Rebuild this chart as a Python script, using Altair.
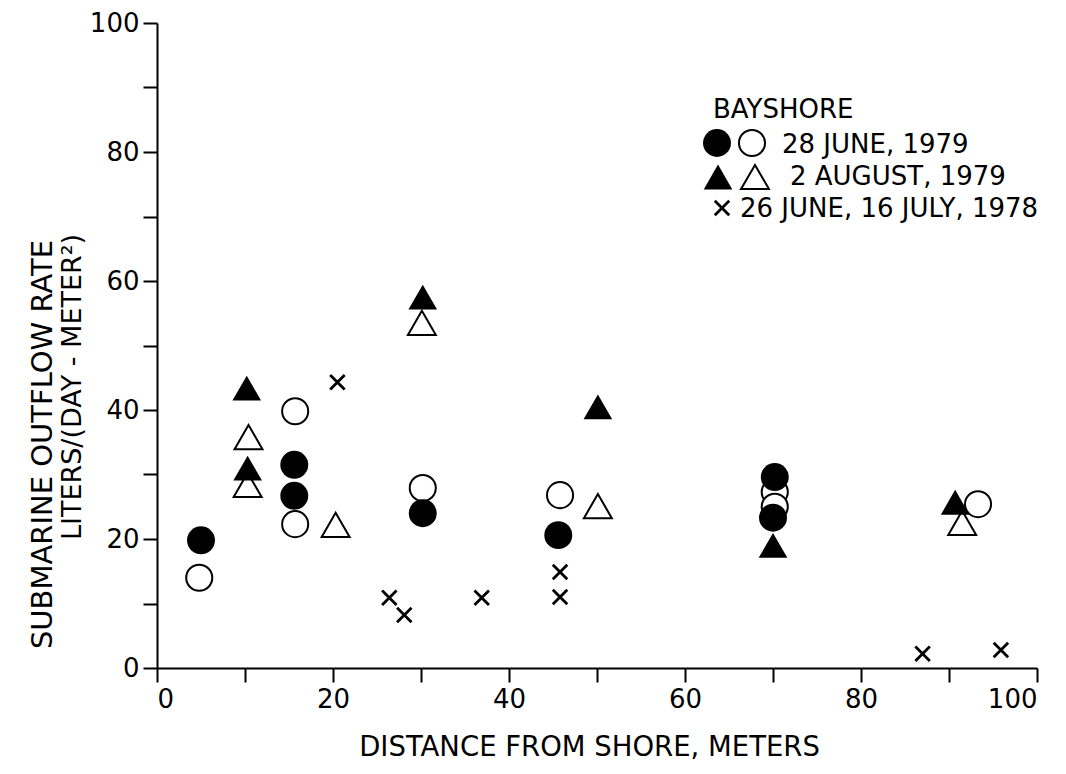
import altair as alt
import pandas as pd

# 28 June 1979 (filled / open circles)
fc_x = [5.0, 15.6, 15.6, 30.2, 45.6, 70.2, 70.0]
fc_y = [19.8, 31.5, 26.7, 24.0, 20.6, 29.6, 23.3]
oc_x = [4.8, 15.7, 15.7, 30.2, 45.8, 70.2, 70.2, 93.3]
oc_y = [14.0, 39.8, 22.3, 27.9, 26.8, 27.3, 25.0, 25.4]
# 2 August 1979 (filled / open triangles)
ft_x = [10.2, 10.3, 30.2, 50.1, 70.0, 90.7]
ft_y = [43.4, 31.0, 57.5, 40.5, 19.0, 25.7]
ot_x = [10.4, 10.3, 20.3, 30.1, 50.1, 91.5]
ot_y = [35.8, 28.4, 22.2, 53.5, 25.1, 22.5]
# 26 June, 16 July 1978 (x marks)
xm_x = [20.5, 26.4, 28.1, 36.9, 45.8, 45.8, 87.0, 95.9]
xm_y = [44.3, 10.9, 8.2, 10.9, 14.9, 11.0, 2.2, 2.8]

x_ticks = list(range(0, 101, 10))
y_ticks = list(range(0, 101, 10))

x_title = "DISTANCE FROM SHORE, METERS"
y_title_1 = "SUBMARINE OUTFLOW RATE"
y_title_2 = "LITERS/(DAY - METER²)"

legend_title = "BAYSHORE"
legend_labels = ["28 JUNE, 1979", "2 AUGUST, 1979", "26 JUNE, 16 JULY, 1978"]

FONT = "DejaVu Sans"

def frame(xs, ys):
    return pd.DataFrame({"x": xs, "y": ys})

xenc = alt.X(
    "x:Q",
    scale=alt.Scale(domain=[0, 100], nice=False),
    axis=alt.Axis(
        values=x_ticks,
        labelExpr="datum.value % 20 == 0 ? datum.label : ''",
        title=x_title,
        titleX=432,
        titleY=87,
        titleAlign="center",
        titleBaseline="alphabetic",
        titleFontSize=27.5,
        labelPadding=4,
    ),
)
yenc = alt.Y(
    "y:Q",
    scale=alt.Scale(domain=[0, 100], nice=False),
    axis=alt.Axis(
        values=y_ticks,
        labelExpr="datum.value % 20 == 0 ? datum.label : ''",
        title=y_title_1,
        titleAngle=270,
        titleX=-106,
        titleY=421,
        titleAlign="center",
        titleBaseline="alphabetic",
        titleFontSize=29,
        labelPadding=4,
    ),
)

open_c = alt.Chart(frame(oc_x, oc_y)).mark_point(
    shape="circle", size=680, filled=True, fill="white", stroke="black", strokeWidth=2, opacity=1
).encode(x=xenc, y=yenc)
open_t = alt.Chart(frame(ot_x, ot_y)).mark_point(
    shape="triangle-up", size=780, filled=True, fill="white", stroke="black", strokeWidth=2, opacity=1
).encode(x=xenc, y=yenc)
xmarks = alt.Chart(frame(xm_x, xm_y)).mark_point(
    shape="M-1,-1L1,1M-1,1L1,-1", size=210, filled=False, stroke="black", strokeWidth=2.8, opacity=1
).encode(x=xenc, y=yenc)
fill_c = alt.Chart(frame(fc_x, fc_y)).mark_point(
    shape="circle", size=780, filled=True, color="black", opacity=1
).encode(x=xenc, y=yenc)
fill_t = alt.Chart(frame(ft_x, ft_y)).mark_point(
    shape="triangle-up", size=820, filled=True, color="black", opacity=1
).encode(x=xenc, y=yenc)

# second line of the y title, drawn as rotated text in pixel space
ytitle2 = pd.DataFrame({"px": [-76], "py": [364], "t": [y_title_2]})
lx = alt.X("px:Q", scale=None, axis=None)
ly = alt.Y("py:Q", scale=None, axis=None)
y2 = alt.Chart(ytitle2).mark_text(
    angle=270, align="center", baseline="alphabetic", font=FONT, fontSize=27, color="black"
).encode(x=lx, y=ly, text="t:N")

# manual legend (two symbols per row), placed in pixel space
leg_text = pd.DataFrame({
    "px": [556, 625, 633, 583],
    "py": [95, 130, 162, 194],
    "t": [legend_title] + legend_labels,
})
leg_sym = pd.DataFrame({
    "px": [560, 595, 561, 598, 565],
    "py": [120, 120, 154, 154, 185],
    "k": ["fc", "oc", "ft", "ot", "xm"],
})

l_text = alt.Chart(leg_text).mark_text(
    align="left", baseline="alphabetic", font=FONT, fontSize=26, color="black"
).encode(x=lx, y=ly, text="t:N")
l_fc = alt.Chart(leg_sym).transform_filter("datum.k == 'fc'").mark_point(
    shape="circle", size=780, filled=True, color="black", opacity=1).encode(x=lx, y=ly)
l_oc = alt.Chart(leg_sym).transform_filter("datum.k == 'oc'").mark_point(
    shape="circle", size=680, filled=True, fill="white", stroke="black", strokeWidth=2, opacity=1).encode(x=lx, y=ly)
l_ft = alt.Chart(leg_sym).transform_filter("datum.k == 'ft'").mark_point(
    shape="triangle-up", size=820, filled=True, color="black", opacity=1).encode(x=lx, y=ly)
l_ot = alt.Chart(leg_sym).transform_filter("datum.k == 'ot'").mark_point(
    shape="triangle-up", size=780, filled=True, fill="white", stroke="black", strokeWidth=2, opacity=1).encode(x=lx, y=ly)
l_xm = alt.Chart(leg_sym).transform_filter("datum.k == 'xm'").mark_point(
    shape="M-1,-1L1,1M-1,1L1,-1", size=210, filled=False, stroke="black", strokeWidth=2.8, opacity=1).encode(x=lx, y=ly)

chart = alt.layer(
    open_c, open_t, xmarks, fill_c, fill_t, y2, l_text, l_fc, l_oc, l_ft, l_ot, l_xm
).properties(
    width=880,
    height=645,
    autosize=alt.AutoSizeParams(type="none"),
    padding={"left": 149, "top": 15, "right": 21, "bottom": 98},
    background="white",
).configure_view(
    stroke=None
).configure_axis(
    grid=False,
    domainColor="black",
    domainWidth=2,
    tickColor="black",
    tickWidth=2,
    tickSize=14,
    labelFont=FONT,
    labelFontSize=26,
    labelColor="black",
    titleFont=FONT,
    titleFontWeight="normal",
    titleColor="black",
)

chart.save("out.html", embed_options={"renderer": "svg", "actions": False})
